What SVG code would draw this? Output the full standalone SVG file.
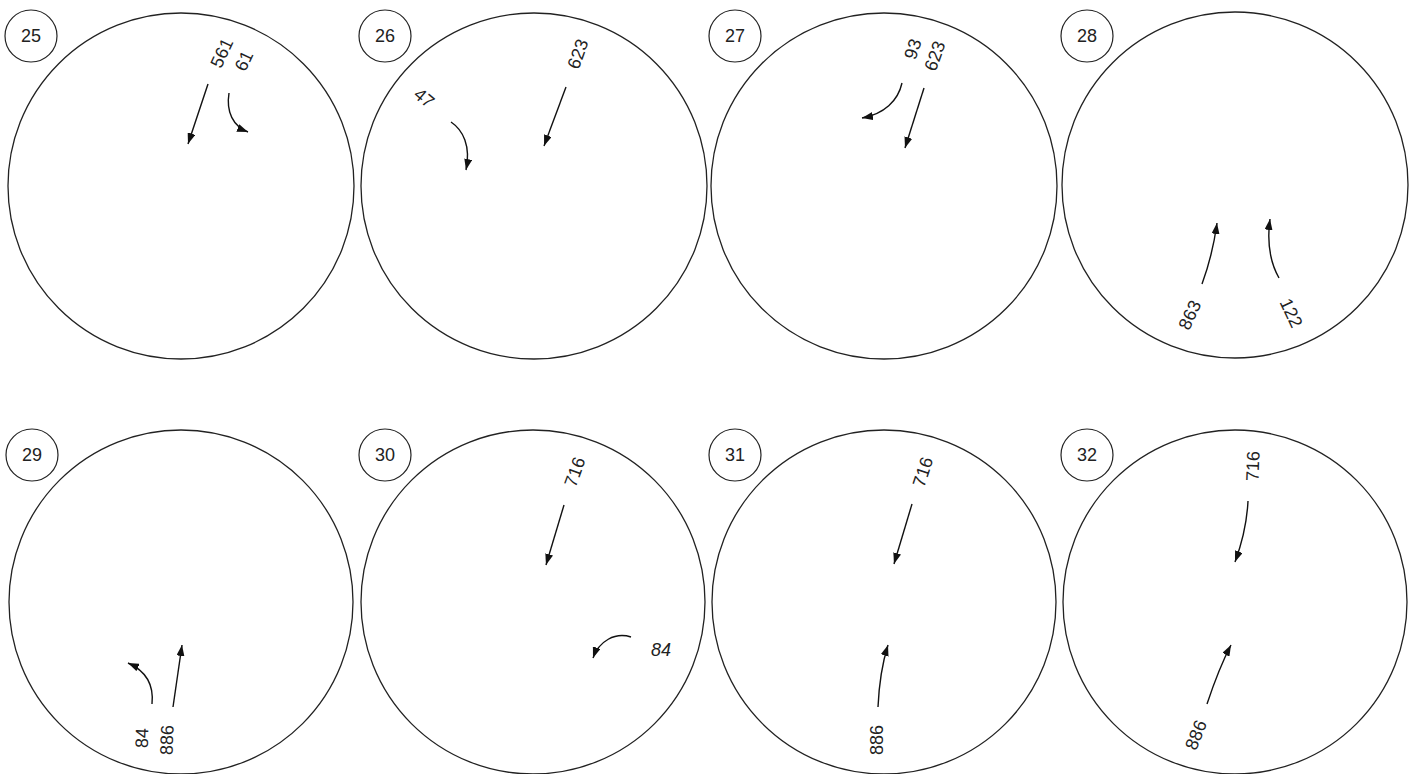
<svg xmlns="http://www.w3.org/2000/svg" width="1419" height="774" viewBox="0 0 1419 774">
<style>
.big{fill:none;stroke:#222;stroke-width:1.3}
.tag{fill:#fff;stroke:#222;stroke-width:1.2}
.num{font-family:"Liberation Sans",Arial,sans-serif;font-size:18px;fill:#222;text-anchor:middle;dominant-baseline:central}
.lbl{font-family:"Liberation Sans",Arial,sans-serif;font-size:18px;fill:#222;text-anchor:middle;dominant-baseline:central}
.it{font-style:italic}
.arr{fill:none;stroke:#111;stroke-width:1.4;marker-end:url(#ah)}
</style>
<defs>
<marker id="ah" markerUnits="userSpaceOnUse" markerWidth="11" markerHeight="8" refX="11" refY="4" orient="auto">
<path d="M0,0 L11,4 L0,8 z" fill="#111"/>
</marker>
</defs>
<rect width="1419" height="774" fill="#fff"/>

<g id="fig25">
<circle class="big" cx="181" cy="186" r="173"/>
<circle class="tag" cx="31" cy="36" r="26"/>
<text class="num" x="31" y="36">25</text>
<text class="lbl" transform="translate(222,53) rotate(-65)">561</text>
<text class="lbl" transform="translate(244,61) rotate(-65)">61</text>
</g>
<g id="fig26">
<circle class="big" cx="534" cy="186" r="173"/>
<circle class="tag" cx="385" cy="36" r="26"/>
<text class="num" x="385" y="36">26</text>
<text class="lbl" transform="translate(424,98) rotate(40)">47</text>
<text class="lbl" transform="translate(578,54) rotate(-70)">623</text>
</g>
<g id="fig27">
<circle class="big" cx="884" cy="186" r="173"/>
<circle class="tag" cx="735" cy="36" r="26"/>
<text class="num" x="735" y="36">27</text>
<text class="lbl" transform="translate(913,49) rotate(-72)">93</text>
<text class="lbl" transform="translate(935,56) rotate(-70)">623</text>
</g>
<g id="fig28">
<circle class="big" cx="1235" cy="185" r="173"/>
<circle class="tag" cx="1087" cy="36" r="26"/>
<text class="num" x="1087" y="36">28</text>
<text class="lbl" transform="translate(1190,315) rotate(-65)">863</text>
<text class="lbl" transform="translate(1291,313) rotate(65)">122</text>
</g>
<g id="fig29">
<circle class="big" cx="181" cy="602" r="172"/>
<circle class="tag" cx="32" cy="455" r="26"/>
<text class="num" x="32" y="455">29</text>
<text class="lbl" transform="translate(142,738) rotate(-88)">84</text>
<text class="lbl" transform="translate(167,740) rotate(-88)">886</text>
</g>
<g id="fig30">
<circle class="big" cx="533" cy="602" r="172"/>
<circle class="tag" cx="385" cy="455" r="26"/>
<text class="num" x="385" y="455">30</text>
<text class="lbl" transform="translate(575,472) rotate(-70)">716</text>
<text class="lbl it" x="661" y="650">84</text>
</g>
<g id="fig31">
<circle class="big" cx="884" cy="602" r="172"/>
<circle class="tag" cx="735" cy="455" r="26"/>
<text class="num" x="735" y="455">31</text>
<text class="lbl" transform="translate(923,472) rotate(-72)">716</text>
<text class="lbl" transform="translate(877,740) rotate(-90)">886</text>
</g>
<g id="fig32">
<circle class="big" cx="1235" cy="602" r="172"/>
<circle class="tag" cx="1087" cy="455" r="26"/>
<text class="num" x="1087" y="455">32</text>
<text class="lbl" transform="translate(1253,466) rotate(-88)">716</text>
<text class="lbl" transform="translate(1196,735) rotate(-68)">886</text>
</g>

<g id="connectors">
<path class="arr" d="M208,84 L188,144"/>
<path class="arr" d="M229,93 C226,112 233,126 248,132"/>
<path class="arr" d="M451,122 C463,130 471,146 466,170"/>
<path class="arr" d="M566,87 L544,146"/>
<path class="arr" d="M902,83 C898,101 884,114 862,118"/>
<path class="arr" d="M924,88 L905,148"/>
<path class="arr" d="M1202,284 C1209,265 1214,245 1217,223"/>
<path class="arr" d="M1279,278 C1270,262 1267,241 1270,219"/>
<path class="arr" d="M152,704 C154,685 146,671 128,663"/>
<path class="arr" d="M173,707 L182,645"/>
<path class="arr" d="M564,505 L546,565"/>
<path class="arr" d="M631,637 C615,632 599,641 593,658"/>
<path class="arr" d="M912,504 L894,564"/>
<path class="arr" d="M878,707 C879,685 882,664 888,645"/>
<path class="arr" d="M1248,501 C1247,522 1242,543 1235,562"/>
<path class="arr" d="M1207,704 C1214,683 1221,664 1231,645"/>
</g>
</svg>
